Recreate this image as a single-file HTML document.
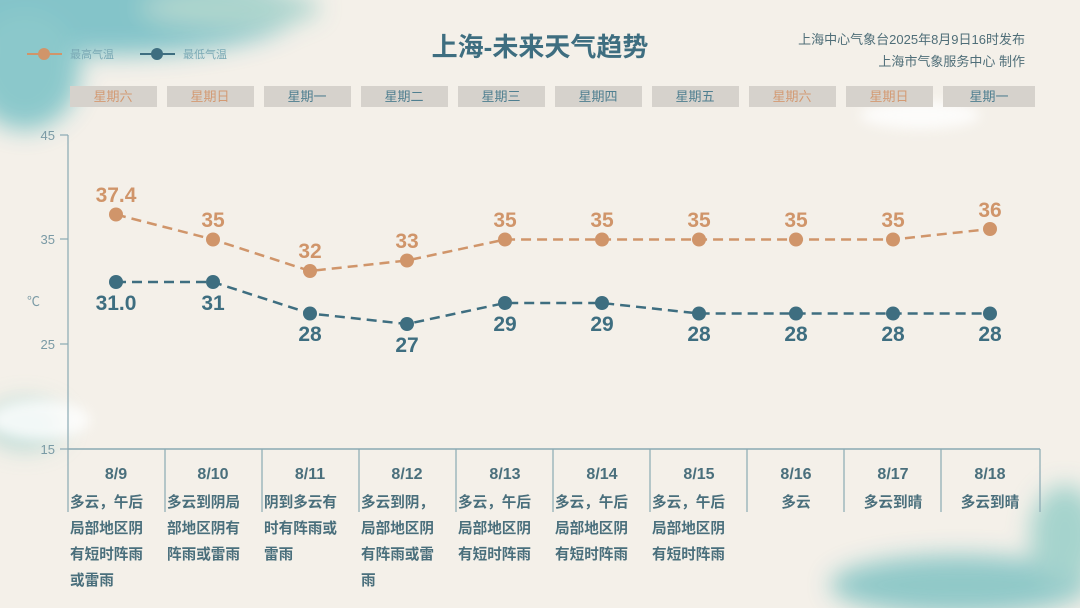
<!DOCTYPE html>
<html><head><meta charset="utf-8"><style>
body{margin:0;width:1080px;height:608px;overflow:hidden;background:#f4f0e9;font-family:"Liberation Sans","Noto Sans CJK SC",sans-serif}
svg{display:block}
</style></head><body>
<svg width="1080" height="608" viewBox="0 0 1080 608" xmlns="http://www.w3.org/2000/svg" font-family="Liberation Sans, Noto Sans CJK SC, sans-serif">
<defs>
<filter id="b" x="-50%" y="-50%" width="200%" height="200%"><feGaussianBlur stdDeviation="12"/></filter>
<filter id="b2" x="-50%" y="-50%" width="200%" height="200%"><feGaussianBlur stdDeviation="6"/></filter>
</defs>
<rect width="1080" height="608" fill="#f4f0e9"/>
<g filter="url(#b)" opacity="0.9">
<ellipse cx="110" cy="10" rx="190" ry="45" fill="#78c0c6"/>
<ellipse cx="25" cy="70" rx="55" ry="60" fill="#80c4c8"/>
<ellipse cx="230" cy="8" rx="90" ry="20" fill="#a8d3cc"/>
<ellipse cx="960" cy="585" rx="130" ry="30" fill="#86c5c5"/>
<ellipse cx="1065" cy="535" rx="35" ry="50" fill="#9dd0ca"/>
<ellipse cx="25" cy="425" rx="40" ry="25" fill="#b8d9d4"/>
</g>
<g filter="url(#b2)" opacity="0.8">
<ellipse cx="920" cy="115" rx="60" ry="14" fill="#ffffff"/>
<ellipse cx="40" cy="420" rx="50" ry="20" fill="#ffffff"/>
</g>
<line x1="27" y1="54" x2="62" y2="54" stroke="#d0956a" stroke-width="2"/>
<circle cx="44" cy="54" r="6" fill="#d0956a"/>
<text x="70" y="58" font-size="11" fill="#7aa9b5">最高气温</text>
<line x1="140" y1="54" x2="175" y2="54" stroke="#3e6e80" stroke-width="2"/>
<circle cx="157" cy="54" r="6" fill="#3e6e80"/>
<text x="183" y="58" font-size="11" fill="#7aa9b5">最低气温</text>
<text x="540" y="56" font-size="26" font-weight="bold" fill="#3e6e80" text-anchor="middle">上海-未来天气趋势</text>
<text x="1025" y="44" font-size="13" fill="#4f6e78" text-anchor="end">上海中心气象台2025年8月9日16时发布</text>
<text x="1025" y="66" font-size="13" fill="#4f6e78" text-anchor="end">上海市气象服务中心 制作</text>
<g font-size="13" text-anchor="middle">
<rect x="70" y="86" width="87" height="21" fill="#d6d2cc"/><text x="113" y="101" fill="#d39a73">星期六</text>
<rect x="167" y="86" width="87" height="21" fill="#d6d2cc"/><text x="210" y="101" fill="#d39a73">星期日</text>
<rect x="264" y="86" width="87" height="21" fill="#d6d2cc"/><text x="307" y="101" fill="#4f7f90">星期一</text>
<rect x="361" y="86" width="87" height="21" fill="#d6d2cc"/><text x="404" y="101" fill="#4f7f90">星期二</text>
<rect x="458" y="86" width="87" height="21" fill="#d6d2cc"/><text x="501" y="101" fill="#4f7f90">星期三</text>
<rect x="555" y="86" width="87" height="21" fill="#d6d2cc"/><text x="598" y="101" fill="#4f7f90">星期四</text>
<rect x="652" y="86" width="87" height="21" fill="#d6d2cc"/><text x="695" y="101" fill="#4f7f90">星期五</text>
<rect x="749" y="86" width="87" height="21" fill="#d6d2cc"/><text x="792" y="101" fill="#d39a73">星期六</text>
<rect x="846" y="86" width="87" height="21" fill="#d6d2cc"/><text x="889" y="101" fill="#d39a73">星期日</text>
<rect x="943" y="86" width="92" height="21" fill="#d6d2cc"/><text x="989" y="101" fill="#4f7f90">星期一</text>
</g>
<g stroke="#8aa9b3" stroke-width="1.2">
<line x1="68" y1="135" x2="68" y2="512"/>
<line x1="60" y1="135" x2="68" y2="135"/>
<line x1="60" y1="239" x2="68" y2="239"/>
<line x1="60" y1="344" x2="68" y2="344"/>
<line x1="60" y1="449" x2="68" y2="449"/>
<line x1="68" y1="449" x2="1040" y2="449" stroke-width="1.5"/>
<line x1="165" y1="449" x2="165" y2="512"/><line x1="262" y1="449" x2="262" y2="512"/>
<line x1="359" y1="449" x2="359" y2="512"/><line x1="456" y1="449" x2="456" y2="512"/>
<line x1="553" y1="449" x2="553" y2="512"/><line x1="650" y1="449" x2="650" y2="512"/>
<line x1="747" y1="449" x2="747" y2="512"/><line x1="844" y1="449" x2="844" y2="512"/>
<line x1="941" y1="449" x2="941" y2="512"/><line x1="1040" y1="449" x2="1040" y2="512"/>
</g>
<g font-size="13" fill="#7a9aa5" text-anchor="end">
<text x="55" y="140">45</text><text x="55" y="244">35</text><text x="55" y="349">25</text><text x="55" y="454">15</text>
<text x="40" y="306">℃</text>
</g>
<polyline points="116,214.5 213,239.5 310,271 407,260.5 505,239.5 602,239.5 699,239.5 796,239.5 893,239.5 990,229" fill="none" stroke="#d0956a" stroke-width="2.5" stroke-dasharray="10,6"/>
<polyline points="116,282 213,282 310,313.5 407,324 505,303 602,303 699,313.5 796,313.5 893,313.5 990,313.5" fill="none" stroke="#3e6e80" stroke-width="2.5" stroke-dasharray="10,6"/>
<g fill="#d0956a">
<circle cx="116" cy="214.5" r="7"/><circle cx="213" cy="239.5" r="7"/><circle cx="310" cy="271" r="7"/><circle cx="407" cy="260.5" r="7"/><circle cx="505" cy="239.5" r="7"/><circle cx="602" cy="239.5" r="7"/><circle cx="699" cy="239.5" r="7"/><circle cx="796" cy="239.5" r="7"/><circle cx="893" cy="239.5" r="7"/><circle cx="990" cy="229" r="7"/>
</g>
<g fill="#3e6e80">
<circle cx="116" cy="282" r="7"/><circle cx="213" cy="282" r="7"/><circle cx="310" cy="313.5" r="7"/><circle cx="407" cy="324" r="7"/><circle cx="505" cy="303" r="7"/><circle cx="602" cy="303" r="7"/><circle cx="699" cy="313.5" r="7"/><circle cx="796" cy="313.5" r="7"/><circle cx="893" cy="313.5" r="7"/><circle cx="990" cy="313.5" r="7"/>
</g>
<g font-size="21" font-weight="bold" fill="#d0956a" text-anchor="middle">
<text x="116" y="202">37.4</text><text x="213" y="227">35</text><text x="310" y="258">32</text><text x="407" y="248">33</text><text x="505" y="227">35</text><text x="602" y="227">35</text><text x="699" y="227">35</text><text x="796" y="227">35</text><text x="893" y="227">35</text><text x="990" y="217">36</text>
</g>
<g font-size="21" font-weight="bold" fill="#3e6e80" text-anchor="middle">
<text x="116" y="310">31.0</text><text x="213" y="310">31</text><text x="310" y="341">28</text><text x="407" y="352">27</text><text x="505" y="331">29</text><text x="602" y="331">29</text><text x="699" y="341">28</text><text x="796" y="341">28</text><text x="893" y="341">28</text><text x="990" y="341">28</text>
</g>
<g font-size="16" font-weight="bold" fill="#4a6f7c" text-anchor="middle">
<text x="116" y="479">8/9</text><text x="213" y="479">8/10</text><text x="310" y="479">8/11</text><text x="407" y="479">8/12</text><text x="505" y="479">8/13</text><text x="602" y="479">8/14</text><text x="699" y="479">8/15</text><text x="796" y="479">8/16</text><text x="893" y="479">8/17</text><text x="990" y="479">8/18</text>
</g>
<g font-size="14.6" font-weight="bold" fill="#4a6f7c">
<text x="70" y="507">多云，午后</text><text x="70" y="533">局部地区阴</text><text x="70" y="559">有短时阵雨</text><text x="70" y="585">或雷雨</text>
<text x="167" y="507">多云到阴局</text><text x="167" y="533">部地区阴有</text><text x="167" y="559">阵雨或雷雨</text>
<text x="264" y="507">阴到多云有</text><text x="264" y="533">时有阵雨或</text><text x="264" y="559">雷雨</text>
<text x="361" y="507">多云到阴，</text><text x="361" y="533">局部地区阴</text><text x="361" y="559">有阵雨或雷</text><text x="361" y="585">雨</text>
<text x="458" y="507">多云，午后</text><text x="458" y="533">局部地区阴</text><text x="458" y="559">有短时阵雨</text>
<text x="555" y="507">多云，午后</text><text x="555" y="533">局部地区阴</text><text x="555" y="559">有短时阵雨</text>
<text x="652" y="507">多云，午后</text><text x="652" y="533">局部地区阴</text><text x="652" y="559">有短时阵雨</text>
<text x="796" y="507" text-anchor="middle">多云</text>
<text x="893" y="507" text-anchor="middle">多云到晴</text>
<text x="990" y="507" text-anchor="middle">多云到晴</text>
</g>
</svg>
</body></html>
